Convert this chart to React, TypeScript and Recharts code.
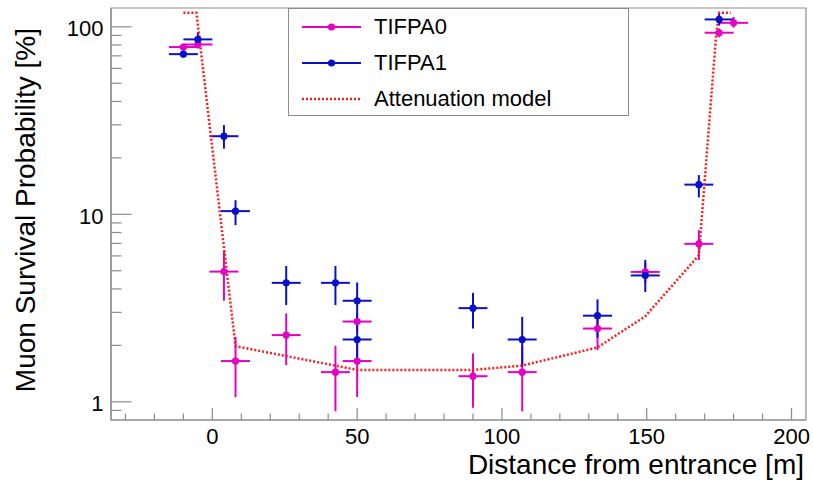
import { ComposedChart, Scatter, Line, XAxis, YAxis, ErrorBar, Legend, ReferenceArea } from 'recharts'

const FONT = '"Liberation Sans", Arial, Helvetica, sans-serif'
const MAGENTA = '#e600c4'
const BLUE = '#0a10c8'
const RED = '#ff1a1a'
const FRAME = '#8c8c8c'

// TIFPA0 measurements (x in m, survival in %)
const tifpa0X = [-10, -5, 4, 8, 25.5, 42.5, 50, 50, 90, 107, 133, 149.5, 168, 175, 180]
const tifpa0Y = [78, 80.5, 4.95, 1.65, 2.27, 1.44, 2.68, 1.65, 1.37, 1.44, 2.46, 4.93, 6.96, 93, 105]
const tifpa0Lo = [3, 3, 1.49, 0.59, 0.7, 0.55, 0.3, 0.59, 0.44, 0.55, 0.57, 0.6, 1.26, 5, 6]
const tifpa0Hi = [3, 3, 1.42, 0.57, 0.69, 0.55, 0.3, 0.55, 0.44, 0.55, 0.55, 0.6, 1.28, 5, 8]

// TIFPA1 measurements
const tifpa1X = [-10, -5, 4, 8, 25.5, 42.5, 50, 50, 90, 107, 133, 149.5, 168, 175]
const tifpa1Y = [71.5, 85.7, 26.1, 10.4, 4.31, 4.31, 3.46, 2.15, 3.16, 2.15, 2.88, 4.72, 14.4, 109.5]
const tifpa1Lo = [3, 9, 3.7, 1.65, 1.03, 1.03, 0.85, 0.5, 0.7, 0.61, 0.68, 0.87, 2.1, 8]
const tifpa1Hi = [3, 8, 3.8, 1.5, 0.99, 0.99, 0.87, 0.6, 0.65, 0.69, 0.64, 1.0, 1.8, 8]

const xHalfWidth = 5

// attenuation model
const modelX = [-10, -5.5, 8, 50, 90, 107, 133, 149.5, 168, 174, 175, 179]
const modelY = [119, 119, 1.98, 1.48, 1.48, 1.56, 1.95, 2.86, 6.05, 92, 119, 119]

const xTicks = [-30, -20, -10, 0, 10, 20, 30, 40, 50, 60, 70, 80, 90, 100, 110, 120, 130, 140, 150, 160, 170, 180, 190, 200]
const yTicks = [0.9, 1, 2, 3, 4, 5, 6, 7, 8, 9, 10, 20, 30, 40, 50, 60, 70, 80, 90, 100]
const yLabels = [1, 10, 100]

const xTitle = 'Distance from entrance [m]'
const yTitle = 'Muon Survival Probability [%]'

const legendEntries = [
  { name: 'TIFPA0', color: MAGENTA, kind: 'marker' },
  { name: 'TIFPA1', color: BLUE, kind: 'marker' },
  { name: 'Attenuation model', color: RED, kind: 'dotted' },
]

const build = (xs: number[], ys: number[], lo: number[], hi: number[]) =>
  xs.map((x, i) => ({ x, y: ys[i], ex: xHalfWidth, ey: [lo[i], hi[i]] }))

const tifpa0Data = build(tifpa0X, tifpa0Y, tifpa0Lo, tifpa0Hi)
const tifpa1Data = build(tifpa1X, tifpa1Y, tifpa1Lo, tifpa1Hi)
const modelData = modelX.map((x, i) => ({ x, y: modelY[i] }))

const dot = (color: string) => (p: any) => <circle cx={p.cx} cy={p.cy} r={3.6} fill={color} />

const XTick = (props: any) => {
  const { x, y, payload } = props
  const major = payload.value % 50 === 0
  return (
    <g>
      <line x1={x} x2={x} y1={y} y2={y - (major ? 12 : 6.5)} stroke={FRAME} strokeWidth={1.2} />
      {major && (
        <text x={x} y={y + 23.5} textAnchor="middle" fontSize={22} fontFamily={FONT} fill="#000">
          {payload.value}
        </text>
      )}
    </g>
  )
}

const YTick = (props: any) => {
  const { x, y, payload } = props
  const major = yLabels.includes(payload.value)
  return (
    <g>
      <line x1={x} x2={x + (major ? 20.5 : 10.5)} y1={y} y2={y} stroke={FRAME} strokeWidth={1.2} />
      {major && (
        <text x={x - 7.5} y={y + 9.5} textAnchor="end" fontSize={22} fontFamily={FONT} fill="#000">
          {payload.value}
        </text>
      )}
    </g>
  )
}

const XTitle = ({ viewBox }: any) => (
  <text x={viewBox.x + viewBox.width - 2} y={viewBox.y + 54} textAnchor="end" fontSize={28} fontFamily={FONT} fill="#000">
    {xTitle}
  </text>
)

const YTitle = () => (
  <text x={34.5} y={28} transform="rotate(-90 34.5 28)" textAnchor="end" fontSize={28} fontFamily={FONT} fill="#000">
    {yTitle}
  </text>
)

const LegendBox = () => (
  <div
    style={{
      width: 341,
      height: 108,
      border: `1px solid ${FRAME}`,
      boxSizing: 'border-box',
      background: '#fff',
      position: 'relative',
      fontFamily: FONT,
      fontSize: 22,
      color: '#000',
    }}
  >
    {legendEntries.map((e, i) => {
      const top = [18, 53.7, 90.3][i] - 18
      return (
        <div key={e.name} style={{ position: 'absolute', left: 0, top, height: 36, width: '100%' }}>
          <svg width={80} height={36} style={{ position: 'absolute', left: 0, top: 0 }}>
            {e.kind === 'marker' ? (
              <>
                <line x1={13} x2={72} y1={18} y2={18} stroke={e.color} strokeWidth={2} />
                <circle cx={42.5} cy={18} r={3.6} fill={e.color} />
              </>
            ) : (
              <line x1={13} x2={72} y1={18} y2={18} stroke={e.color} strokeWidth={2.5} strokeDasharray="2 2" />
            )}
          </svg>
          <span style={{ position: 'absolute', left: 85, top: 0, lineHeight: '36px', whiteSpace: 'nowrap' }}>{e.name}</span>
        </div>
      )
    })}
  </div>
)

export default function App() {
  return (
    <div style={{ position: 'absolute', left: 0, top: 0, background: '#fff' }}>
      <ComposedChart width={813} height={487} margin={{ top: 8, right: 7, bottom: 0, left: 0 }}>
        <XAxis
          dataKey="x"
          type="number"
          domain={[-35, 205]}
          ticks={xTicks}
          interval={0}
          allowDataOverflow
          height={67}
          tickSize={0}
          tickMargin={0}
          tickLine={false}
          axisLine={{ stroke: FRAME, strokeWidth: 1.2 }}
          tick={XTick}
          label={<XTitle />}
        />
        <YAxis
          dataKey="y"
          type="number"
          scale="log"
          domain={[0.8, 126]}
          ticks={yTicks}
          interval={0}
          allowDataOverflow
          width={111}
          tickSize={0}
          tickMargin={0}
          tickLine={false}
          axisLine={{ stroke: FRAME, strokeWidth: 1.2 }}
          tick={YTick}
          label={<YTitle />}
        />
        <ReferenceArea x1={-35} x2={205} y1={0.8} y2={126} fill="none" stroke={FRAME} strokeWidth={1.2} ifOverflow="visible" />
        <Scatter name="TIFPA0" data={tifpa0Data} dataKey="y" fill={MAGENTA} shape={dot(MAGENTA)} isAnimationActive={false}>
          <ErrorBar dataKey="ex" direction="x" width={0} stroke={MAGENTA} strokeWidth={2} isAnimationActive={false} />
          <ErrorBar dataKey="ey" direction="y" width={0} stroke={MAGENTA} strokeWidth={2} isAnimationActive={false} />
        </Scatter>
        <Scatter name="TIFPA1" data={tifpa1Data} dataKey="y" fill={BLUE} shape={dot(BLUE)} isAnimationActive={false}>
          <ErrorBar dataKey="ex" direction="x" width={0} stroke={BLUE} strokeWidth={2} isAnimationActive={false} />
          <ErrorBar dataKey="ey" direction="y" width={0} stroke={BLUE} strokeWidth={2} isAnimationActive={false} />
        </Scatter>
        <Line
          name="Attenuation model"
          data={modelData}
          dataKey="y"
          type="linear"
          stroke={RED}
          strokeWidth={2.5}
          strokeDasharray="2 2"
          dot={false}
          activeDot={false}
          isAnimationActive={false}
        />
        <Legend
          layout="vertical"
          align="center"
          verticalAlign="middle"
          content={() => <LegendBox />}
          wrapperStyle={{ left: 288, top: 8, width: 341, height: 108 }}
        />
      </ComposedChart>
    </div>
  )
}
